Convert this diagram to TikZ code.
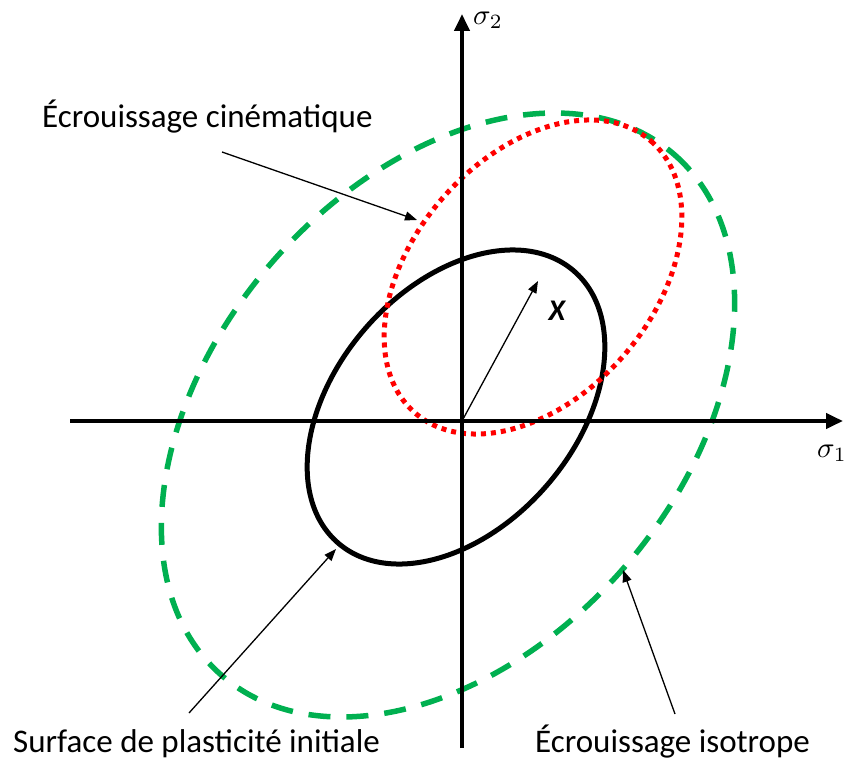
\documentclass[tikz,border=0pt]{standalone}
\usepackage{fontspec}
\setmainfont{Carlito}
\usepackage{amsmath}
\usepackage{graphicx}
\usetikzlibrary{arrows.meta}
\definecolor{isogreen}{RGB}{0,176,80}
\definecolor{kinred}{RGB}{255,0,0}

\begin{document}
\begin{tikzpicture}[x=1pt, y=-1pt,
  axisline/.style={line width=4pt, -{Triangle[length=17pt,width=15pt]}},
  pointer/.style={line width=1.3pt, -{Triangle[length=12pt,width=9pt]}},
  notetext/.style={inner sep=0pt, anchor=base west, font=\fontsize{33}{40}\selectfont}]
  \useasboundingbox (0,0) rectangle (849,760);

  % initial yield surface
  \draw[line width=5pt, rotate around={49:(456,407)}]
    (456,407) ellipse [x radius=180, y radius=120];
  % isotropic hardening
  \draw[isogreen, line width=5.5pt, dash pattern=on 22pt off 16pt, rotate around={49:(448,415)}]
    (448,415) ellipse [x radius=345, y radius=233];
  % kinematic hardening
  \draw[kinred, line width=5pt, dash pattern=on 5pt off 5pt, rotate around={49:(533,277)}]
    (533,277) ellipse [x radius=180, y radius=120];

  % axes
  \coordinate (O) at (462,421);
  \coordinate (xstart) at (70,421);
  \coordinate (xend) at (843,421);
  \coordinate (ystart) at (462,748);
  \coordinate (yend) at (462,14);
  \draw[axisline] (xstart) -- (xend);
  \draw[axisline] (ystart) -- (yend);
  \node (sig1) at (832,453) {\scalebox{2.9}{$\sigma_1$}};
  \node (sig2) at (488,20) {\scalebox{2.9}{$\sigma_2$}};

  % back stress
  \coordinate (Xtip) at (538,281);
  \draw[pointer] (O) -- (Xtip);
  \node (Xlab) at (557,311) {\fontsize{30}{36}\selectfont\bfseries\itshape X};

  % labels
  \node[notetext] (kin) at (42,128) {Écrouissage cinématique};
  \node[notetext] (init) at (13,752) {Surface de plasticité initiale};
  \node[notetext] (iso) at (535,752) {Écrouissage isotrope};
  \coordinate (kinfrom) at (222,152);
  \coordinate (kinto) at (417,220);
  \coordinate (initfrom) at (189,713);
  \coordinate (initto) at (336,549);
  \coordinate (isofrom) at (675,714);
  \coordinate (isoto) at (623,570);
  \draw[pointer] (kinfrom) -- (kinto);
  \draw[pointer] (initfrom) -- (initto);
  \draw[pointer] (isofrom) -- (isoto);
\end{tikzpicture}
\end{document}
